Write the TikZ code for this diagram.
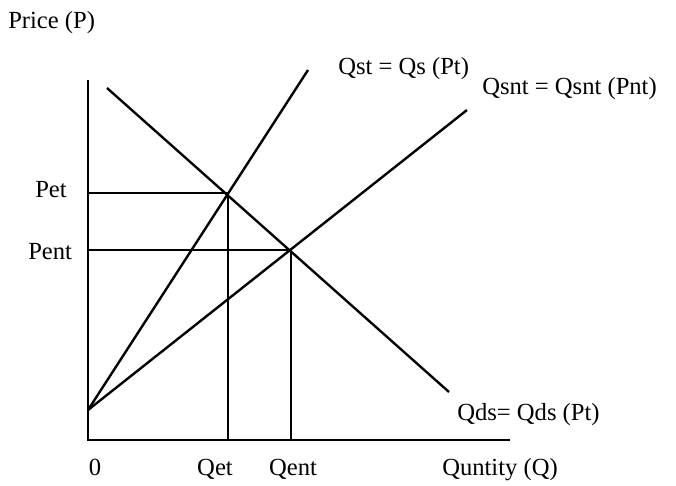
\documentclass[tikz,border=0pt]{standalone}
\usepackage{fontspec}
\setmainfont{Liberation Serif}
\begin{document}
\begin{tikzpicture}[font=\fontsize{17.5}{20}\selectfont,
	axis/.style={line width=2.1pt},
	curve/.style={line width=1.7pt},
	guide/.style={line width=1.3pt},
	lbl/.style={inner sep=0pt}]
	\useasboundingbox (0,0) rectangle (16.9,12.125);
	% axes
	\coordinate (O) at (2.2,1.125);
	\coordinate (Ytop) at (2.2,10.125);
	\coordinate (Xend) at (12.75,1.125);
	\draw[axis] (Ytop)--(O)--(Xend);
	% curves
	\coordinate (A) at (2.2,1.875);
	\coordinate (Et) at (5.7,7.3);
	\coordinate (Ent) at (7.275,5.875);
	\coordinate (St) at (7.7,10.375);
	\coordinate (Snt) at (11.675,9.375);
	\coordinate (D1) at (2.675,9.925);
	\coordinate (D2) at (11.225,2.325);
	\draw[curve] (A)--(St);
	\draw[curve] (A)--(Snt);
	\draw[curve] (D1)--(D2);
	% equilibrium guides
	\draw[guide] (Et -| O)--(Et)--(Et |- O);
	\draw[guide] (Ent -| O)--(Ent)--(Ent |- O);
	\node[lbl, anchor=base west] (price) at (0.2,11.4) {Price (P)};
	\node[lbl, anchor=base west] (pet) at (0.875,7.175) {Pet};
	\node[lbl, anchor=base west] (pent) at (0.7,5.625) {Pent};
	\node[lbl, anchor=base] (zero) at (2.375,0.25) {0};
	\node[lbl, anchor=base] (qet) at (5.375,0.25) {Qet};
	\node[lbl, anchor=base] (qent) at (7.325,0.25) {Qent};
	\node[lbl, anchor=base west] (qty) at (11.05,0.25) {Quntity (Q)};
	\node[lbl, anchor=base west] (qst) at (8.45,10.25) {Qst = Qs (Pt)};
	\node[lbl, anchor=base west] (qsnt) at (12.05,9.75) {Qsnt = Qsnt (Pnt)};
	\node[lbl, anchor=base west] (qds) at (11.425,1.625) {Qds= Qds (Pt)};
\end{tikzpicture}
\end{document}
